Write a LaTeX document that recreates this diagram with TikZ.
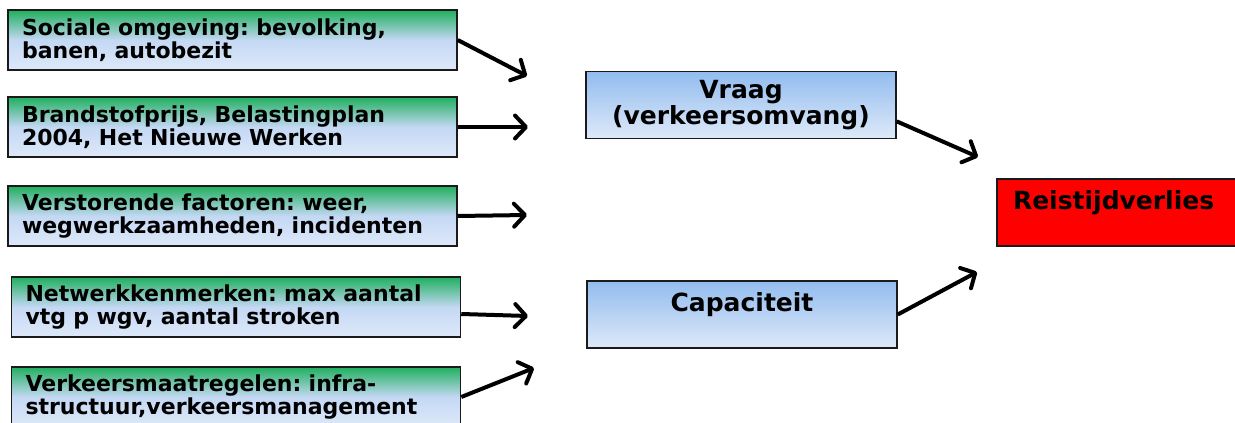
\documentclass[tikz,border=0pt]{standalone}
\usepackage{fontspec}
\setmainfont{DejaVu Sans}
\usetikzlibrary{arrows.meta}
\definecolor{topgrn}{HTML}{1FAF5E}
\definecolor{midbl}{HTML}{C4D8F4}
\definecolor{palebl}{HTML}{DEE9F9}
\definecolor{topbl}{HTML}{92BCEE}
\definecolor{frame}{HTML}{1A1A1A}
\definecolor{lossred}{HTML}{FF0000}
\pgfdeclareverticalshading{grnblue}{100bp}{color(0bp)=(palebl); color(25bp)=(palebl); color(50bp)=(midbl); color(75bp)=(topgrn); color(100bp)=(topgrn)}
\pgfdeclareverticalshading{bluefade}{100bp}{color(0bp)=(palebl); color(25bp)=(palebl); color(75bp)=(topbl); color(100bp)=(topbl)}
\newcommand{\smallfnt}{\fontsize{22}{23}\selectfont\bfseries}
\newcommand{\bigfnt}{\fontsize{25}{26}\selectfont\bfseries}
\frenchspacing

\begin{document}
\begin{tikzpicture}[x=1pt,y=-1pt,
  factor/.style={draw=frame,line width=1.5pt,shading=grnblue,minimum height=60pt,
    inner xsep=14pt,inner ysep=0pt,text width=421pt,align=left,font=\smallfnt},
  middle/.style={draw=frame,line width=1.5pt,shading=bluefade,minimum width=310pt,
    minimum height=67pt,align=center,font=\bigfnt},
  result/.style={draw=frame,line width=1.5pt,fill=lossred,minimum height=67pt,
    inner xsep=16pt,text width=216pt,align=left,font=\bigfnt},
  feed/.style={line width=4pt,-{Straight Barb[length=11pt,width=23pt,round]}}]
\useasboundingbox (0,0) rectangle (1235,423);
% inputs
\node[factor] (soc) at (232.5,40) {Sociale omgeving: bevolking,\\banen, autobezit};
\node[factor] (fuel) at (232.5,127) {Brandstofprijs, Belastingplan\\2004, Het Nieuwe Werken};
\node[factor] (dist) at (232.5,216) {Verstorende factoren: weer,\\wegwerkzaamheden, incidenten};
\node[factor] (netw) at (236,307) {Netwerkkenmerken: max aantal\\vtg p wgv, aantal stroken};
\node[factor] (meas) at (236,397) {Verkeersmaatregelen: infra-\\structuur,verkeersmanagement};
% middle column
\node[middle] (vraag) at (741,105) {Vraag\\(verkeersomvang)};
\node[middle] (cap) at (742,314.5) {Capaciteit\\[-8pt]\strut};
\node[result] (loss) at (1121,212.5) {Reistijdverlies\\[-8pt]\strut};
% free arrow ends
\coordinate (e1) at (527,76);
\coordinate (e2) at (528,127);
\coordinate (e3) at (527,215);
\coordinate (e4) at (528,316);
\coordinate (e5) at (534,368);
\coordinate (e6) at (978,157);
\coordinate (e7) at (977,272);
\draw[feed] (soc.east) -- (e1);
\draw[feed] (fuel.east) -- (e2);
\draw[feed] (dist.east) -- (e3);
\draw[feed] ([yshift=-7pt]netw.east) -- (e4);
\draw[feed] (meas.east) -- (e5);
\draw[feed] (vraag.-6.6) -- (e6);
\draw[feed] (cap.east) -- (e7);
\end{tikzpicture}
\end{document}
